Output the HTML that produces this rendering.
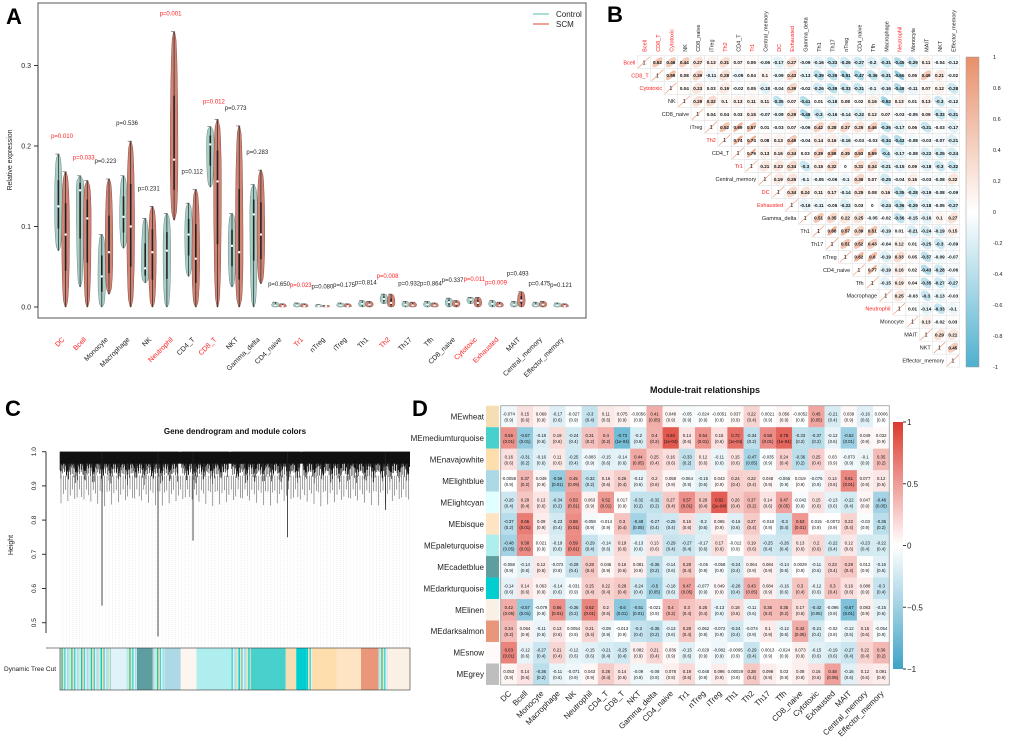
<!DOCTYPE html>
<html><head><meta charset="utf-8"><style>
html,body{margin:0;padding:0;background:#fff;}
svg{display:block;font-family:"Liberation Sans",Arial,sans-serif;}
</style></head><body>
<svg id="fig" width="1020" height="744" viewBox="0 0 1020 744" xmlns="http://www.w3.org/2000/svg">
<rect x="0" y="0" width="1020" height="744" fill="#fff"/>
<text x="6" y="24" font-size="22" font-weight="bold">A</text>
<text x="607" y="22" font-size="22" font-weight="bold">B</text>
<text x="5" y="416" font-size="22" font-weight="bold">C</text>
<text x="412" y="416" font-size="22" font-weight="bold">D</text>
<g id="pa"></g>
<g id="pb"></g>
<g id="pc"></g>
<g id="pd"></g>
</svg>
<script>
// ---------- Panel A data ----------
const catsA = ["DC","Bcell","Monocyte","Macrophage","NK","Neutrophil","CD4_T","CD8_T","NKT","Gamma_delta","CD4_naive","Tr1","nTreg","iTreg","Th1","Th2","Th17","Tfh","CD8_naive","Cytotoxic","Exhausted","MAIT","Central_memory","Effector_memory"];
const ctrlMin = [0.07,0.025,0,0.073,0.03,0,0.038,0.149,0.025,0,0,0,0,0,0,0.004,0,0,0,0.004,0,0,0,0];
const ctrlMax = [0.19,0.163,0.09,0.163,0.11,0.116,0.129,0.224,0.116,0.152,0.006,0.005,0.003,0.005,0.008,0.016,0.007,0.007,0.011,0.012,0.008,0.007,0.006,0.005];
const ctrlMed = [0.125,0.145,0.038,0.112,0.048,0.07,0.09,0.202,0.076,0.115,0.002,0.002,0.001,0.002,0.004,0.01,0.003,0.003,0.006,0.009,0.004,0.003,0.002,0.002];
const scmMin = [0,0,0.016,0,0,0.108,0,0,0,0.029,0,0,0,0,0,0,0,0,0,0,0,0,0,0];
const scmMax = [0.168,0.157,0.159,0.206,0.125,0.342,0.146,0.233,0.225,0.17,0.004,0.004,0.002,0.004,0.007,0.016,0.006,0.005,0.008,0.012,0.006,0.019,0.007,0.004];
const scmMed = [0.09,0.11,0.068,0.1,0.068,0.183,0.06,0.156,0.068,0.09,0.001,0.001,0.001,0.001,0.003,0.005,0.002,0.002,0.004,0.005,0.002,0.008,0.003,0.001];
const pvalsA = ["0.010","0.033","0.223","0.536","0.231","0.001","0.112","0.012","0.773","0.283","0.650","0.023","0.080","0.175","0.814","0.008","0.932","0.864","0.337","0.011","0.009","0.493","0.475","0.121"];
const yTicksA = [0.0,0.1,0.2,0.3];

// ---------- Panel B data ----------
const varsB = ["Bcell","CD8_T","Cytotoxic","NK","CD8_naive","iTreg","Th2","CD4_T","Tr1","Central_memory","DC","Exhausted","Gamma_delta","Th1","Th17","nTreg","CD4_naive","Tfh","Macrophage","Neutrophil","Monocyte","MAIT","NKT","Effector_memory"];
const redB = ["Bcell","CD8_T","Cytotoxic","Th2","Tr1","DC","Exhausted","Neutrophil"];
const corB = [
[0.52,0.46,0.44,0.27,0.13,0.31,0.07,0.06,-0.06,-0.17,0.27,-0.09,-0.16,-0.33,-0.26,-0.27,-0.2,-0.31,-0.45,-0.29,0.11,-0.04,-0.12],
[0.59,0.08,0.39,-0.11,0.28,-0.09,0.04,0.1,-0.09,0.43,-0.13,-0.39,-0.39,-0.51,-0.47,-0.36,-0.31,-0.65,0.05,0.49,0.21,-0.02],
[0.04,0.23,0.03,0.19,-0.02,0.05,-0.18,-0.04,0.39,-0.02,-0.26,-0.39,-0.33,-0.31,-0.1,-0.16,-0.48,-0.11,0.07,0.12,-0.28],
[0.29,0.32,0.1,0.13,0.11,0.11,-0.35,0.07,-0.41,0.01,-0.18,0.08,0.02,0.16,-0.53,0.13,0.01,0.13,-0.3,-0.12],
[0.04,0.04,0.03,0.15,-0.07,-0.09,0.29,-0.48,-0.3,-0.16,-0.14,-0.22,0.12,0.07,-0.03,-0.05,0.09,-0.33,-0.31],
[0.52,0.69,0.57,0.01,-0.03,0.07,-0.06,0.42,0.28,0.37,0.25,0.46,-0.36,-0.17,0.06,-0.31,-0.03,-0.17],
[0.74,0.74,0.08,0.13,0.49,-0.04,0.14,0.16,-0.16,-0.03,-0.03,-0.34,-0.43,-0.08,-0.03,-0.07,-0.21],
[0.79,0.13,0.16,0.34,0.03,0.39,0.58,0.35,0.53,0.59,-0.4,-0.17,-0.08,-0.22,-0.25,-0.24],
[0.21,0.23,0.34,-0.3,0.15,0.32,0,0.31,0.34,-0.21,-0.15,0.09,-0.18,-0.3,-0.32],
[0.19,0.25,-0.1,-0.05,-0.06,-0.1,0.36,0.07,-0.25,-0.04,0.16,-0.03,-0.08,0.22],
[0.34,0.24,0.11,0.17,-0.14,0.25,0.08,0.16,-0.35,-0.28,-0.19,-0.08,-0.09],
[-0.16,-0.11,-0.05,-0.22,0.03,0,-0.24,-0.36,-0.29,-0.18,-0.05,-0.27],
[0.51,0.35,0.22,0.25,-0.05,-0.02,-0.36,-0.15,-0.16,0.1,0.27],
[0.68,0.57,0.39,0.51,-0.19,0.01,-0.21,-0.24,-0.19,0.15],
[0.51,0.52,0.43,-0.04,0.12,0.01,-0.25,-0.3,-0.09],
[0.62,0.6,-0.19,0.33,0.05,-0.37,-0.09,-0.07],
[0.77,-0.19,0.16,0.02,-0.43,-0.28,-0.06],
[-0.15,0.19,0.04,-0.35,-0.27,-0.27],
[0.25,-0.03,-0.3,-0.13,-0.03],
[0.01,-0.14,-0.33,-0.1],
[0.13,-0.02,0.03],
[0.29,0.21],
[0.45],
[]];
const cbTicksB = [1,0.8,0.6,0.4,0.2,0,-0.2,-0.4,-0.6,-0.8,-1];

// ---------- Panel C data ----------
const treeSegStart = [0,0.145,0.19,0.22,0.265,0.30,0.345,0.39,0.49,0.545,0.645,0.675,0.705,0.72,0.79,0.86,0.91,0.935];
const treeSegColor = ["mix","#e0f3f8","mix","#5f9ea0","mix","#add8e6","#fdf6f0","#afeeee","mix","#48d1cc","#f5deb3","#00ced1","mix","#ffdead","#ffe4c4","#e9967a","mix","#faf0e6"];
const dropPos = [0.12,0.28,0.38,0.65,0.93];
const dropHeight = [0.55,0.46,0.74,0.75,0.83];
const yTicksC = [1.0,0.9,0.8,0.7,0.6,0.5];

// ---------- Panel D data ----------
const modules = ["MEwheat","MEmediumturquoise","MEnavajowhite","MElightblue","MElightcyan","MEbisque","MEpaleturquoise","MEcadetblue","MEdarkturquoise","MElinen","MEdarksalmon","MEsnow","MEgrey"];
const moduleColors = ["#f5deb3","#48d1cc","#ffdead","#add8e6","#e0ffff","#ffe4c4","#afeeee","#5f9ea0","#00ced1","#faf0e6","#e9967a","#fffafa","#bebebe"];
const traits = ["DC","Bcell","Monocyte","Macrophage","NK","Neutrophil","CD4_T","CD8_T","NKT","Gamma_delta","CD4_naive","Tr1","nTreg","iTreg","Th1","Th2","Th17","Tfh","CD8_naive","Cytotoxic","Exhausted","MAIT","Central_memory","Effector_memory"];
const corD = [
[-0.074,0.15,0.069,-0.17,-0.027,-0.3,0.11,0.075,-0.0056,0.41,0.048,-0.05,-0.024,-0.0051,0.037,0.22,0.0021,0.056,-0.0052,0.45,-0.21,0.039,-0.16,0.0006],
[0.56,-0.57,-0.18,0.19,-0.24,0.31,0.4,-0.73,-0.2,0.4,0.84,0.14,0.54,0.15,0.72,-0.34,0.58,0.78,-0.33,-0.37,-0.12,-0.52,0.049,0.032],
[0.16,-0.31,-0.16,0.11,-0.25,-0.083,-0.15,-0.14,0.44,0.25,0.16,-0.33,0.12,-0.11,0.15,-0.47,-0.035,0.24,-0.36,0.25,0.03,-0.073,-0.1,0.35],
[-0.0058,0.37,0.049,-0.56,0.45,-0.32,0.16,0.26,-0.12,0.2,0.058,-0.064,-0.15,0.043,0.24,0.22,0.048,-0.065,0.019,-0.075,0.14,0.61,0.077,0.12],
[-0.26,0.29,0.13,-0.34,0.53,0.063,0.52,0.017,-0.32,-0.32,0.27,0.57,0.29,0.82,0.26,0.37,0.14,0.47,-0.042,0.15,-0.13,-0.22,0.047,-0.48],
[-0.37,0.66,0.09,-0.23,0.58,-0.059,-0.014,0.3,-0.48,-0.27,-0.25,0.16,-0.2,0.065,-0.16,0.27,-0.018,-0.3,0.53,0.015,-0.0072,0.22,-0.03,-0.36],
[-0.48,0.58,0.021,-0.19,0.59,-0.29,-0.14,0.19,-0.13,0.13,-0.29,-0.27,-0.17,0.17,-0.012,0.19,-0.25,-0.26,0.13,0.2,-0.22,0.12,-0.23,-0.22],
[-0.058,-0.14,0.12,-0.072,-0.29,0.28,0.045,0.16,0.081,-0.36,-0.14,0.28,-0.05,-0.058,-0.24,0.064,0.084,-0.14,0.0029,-0.11,0.23,0.29,0.012,-0.16],
[-0.14,0.14,0.063,-0.14,-0.031,0.25,0.22,0.28,-0.24,-0.5,-0.18,0.47,-0.077,0.049,-0.28,0.43,0.084,-0.16,0.3,-0.12,0.3,0.16,0.088,-0.3],
[0.42,-0.57,-0.079,0.56,-0.36,0.62,0.2,-0.6,-0.51,-0.021,0.4,0.3,0.25,-0.13,0.18,-0.11,0.35,0.35,0.17,-0.42,-0.096,-0.67,0.083,-0.15],
[0.34,0.064,-0.11,0.13,0.0054,0.21,-0.09,-0.013,-0.3,-0.35,-0.13,0.28,-0.062,-0.072,-0.24,-0.074,0.1,-0.12,0.42,-0.21,-0.02,-0.12,0.15,-0.054],
[0.63,-0.12,-0.27,0.21,-0.12,-0.15,-0.21,-0.25,0.082,0.21,0.036,-0.15,-0.029,-0.082,-0.0095,-0.29,0.0013,-0.024,0.073,-0.15,-0.19,-0.27,0.22,0.36],
[0.053,0.14,-0.36,-0.11,-0.071,0.043,0.26,0.14,-0.09,-0.08,0.078,0.19,-0.048,0.096,0.00029,0.28,0.098,0.03,0.08,0.16,0.48,-0.16,0.12,0.091]];
const cbTicksD = [1,0.5,0,-0.5,-1];

// ---------- helpers ----------
const NS = "http://www.w3.org/2000/svg";
function mk(tag, parent, attrs){ const e=document.createElementNS(NS,tag); for(const k in attrs) e.setAttribute(k,attrs[k]); parent.appendChild(e); return e; }
function hex(c){return [parseInt(c.slice(1,3),16),parseInt(c.slice(3,5),16),parseInt(c.slice(5,7),16)];}
function mix(a,b,t){const A=hex(a),B=hex(b);return "rgb("+A.map((v,i)=>Math.round(v+(B[i]-v)*t)).join(",")+")";}
function colB(r){return r>=0?mix("#ffffff","#e8906a",Math.min(1,r)):mix("#ffffff","#4fb0cf",Math.min(1,-r));}
function colD(r){return r>=0?mix("#ffffff","#dd3a2e",Math.min(1,r)):mix("#ffffff","#3fa3c6",Math.min(1,-r));}

// ---------- Panel A ----------
(function(){
const g=document.getElementById("pa");
const yA=v=>307-v*805;
const xA=i=>62+i*21.7;
const box=mk("rect",g,{x:38,y:3,width:548,height:315,fill:"none",stroke:"#555","stroke-width":1});


mk("line",g,{x1:38,y1:yA(0),x2:38,y2:yA(0.3),stroke:"#333"});
yTicksA.forEach(t=>{
  mk("line",g,{x1:34,y1:yA(t),x2:38,y2:yA(t),stroke:"#333"});
  const tl=mk("text",g,{x:31,y:yA(t)+2.5,"font-size":7,"text-anchor":"end",fill:"#222"});
  tl.textContent=t.toFixed(1);
  
  
});
const yt=mk("text",g,{x:12,y:160,"font-size":7,"text-anchor":"middle",transform:"rotate(-90 12 160)",fill:"#222"});
yt.textContent="Relative expression";


function violin(cx,mn,mx,md,fill,stroke,name){
  const W=3.3, n=24; let left=[],right=[];
  for(let k=0;k<=n;k++){
    const v=mn+(mx-mn)*k/n;
    const span=v<md?(md-mn||1e-6):(mx-md||1e-6);
    let t=Math.abs(v-md)/span; let w=W*Math.pow(Math.max(0,1-t*t),0.4)+0.5;
    left.push([cx-w,yA(v)]); right.push([cx+w,yA(v)]);
  }
  const pts=left.concat(right.reverse()).map(p=>p[0].toFixed(1)+","+p[1].toFixed(1)).join(" ");
  const p=mk("polygon",g,{points:pts,fill:fill,stroke:stroke,"stroke-width":0.5});
  
  
  mk("line",g,{x1:cx,y1:yA(mn),x2:cx,y2:yA(mx),stroke:"#222","stroke-width":0.7});
  mk("line",g,{x1:cx,y1:yA((mn+md)/2),x2:cx,y2:yA((md+mx)/2),stroke:"#222","stroke-width":1.6});
  mk("line",g,{x1:cx-3,y1:yA(mx),x2:cx+1,y2:yA(mx),stroke:"#555","stroke-width":0.6});
  mk("circle",g,{cx:cx,cy:yA(md),r:1.2,fill:"#fff"});
}
catsA.forEach((c,i)=>{
  violin(xA(i)-3.6,ctrlMin[i],ctrlMax[i],ctrlMed[i],"#a9cdc7","#6a8a86","violin-control-"+c.toLowerCase());
  violin(xA(i)+3.6,scmMin[i],scmMax[i],scmMed[i],"#d08476","#8a4a40","violin-scm-"+c.toLowerCase());
  const sig=parseFloat(pvalsA[i])<0.05;
  const top=Math.max(ctrlMax[i],scmMax[i]);
  const pl=mk("text",g,{x:xA(i),y:yA(top+0.02),"font-size":6,"text-anchor":"middle",fill:sig?"#ff2020":"#222"});
  pl.textContent="p="+pvalsA[i];
  
  
  const lx=xA(i)+3, ly=340;
  const xl=mk("text",g,{x:lx,y:ly,"font-size":7,"text-anchor":"end",transform:`rotate(-45 ${lx} ${ly})`,fill:redB.includes(c)?"#ff2020":"#222"});
  xl.textContent=c;
  
  
});
const lg=mk("g",g,{});


mk("line",lg,{x1:533,y1:14,x2:549,y2:14,stroke:"#8fd3c8","stroke-width":1.5});
mk("line",lg,{x1:533,y1:24,x2:549,y2:24,stroke:"#e8837a","stroke-width":1.5});
const l1=mk("text",lg,{x:556,y:17,"font-size":8,fill:"#222"}); l1.textContent="Control";


const l2=mk("text",lg,{x:556,y:27,"font-size":8,fill:"#222"}); l2.textContent="SCM";


})();

// ---------- Panel B ----------
(function(){
const g=document.getElementById("pb");
const cw=13.43, ch=12.97, x0=637.3, y0=55.8;
const xB=j=>x0+j*cw, yB=i=>y0+i*ch;
varsB.forEach((v,i)=>{
  const red=redB.includes(v);
  const cx=xB(i)+cw/2+2.5, cy=yB(0)-4;
  const cl=mk("text",g,{x:cx,y:cy,"font-size":5.5,transform:`rotate(-90 ${cx} ${cy})`,fill:red?"#ff2020":"#222"});
  cl.textContent=v;
  
  
  const rl=mk("text",g,{x:xB(i)-2,y:yB(i)+ch/2+2,"font-size":5.5,"text-anchor":"end",fill:red?"#ff2020":"#222"});
  rl.textContent=v;
  
  
  mk("rect",g,{x:xB(i),y:yB(i),width:cw,height:ch,fill:"#fff",stroke:"#ddd","stroke-width":0.5});
  mk("line",g,{x1:xB(i)+1,y1:yB(i)+ch-1,x2:xB(i)+cw-1,y2:yB(i)+1,stroke:"#e8906a","stroke-width":0.6});
  const d=mk("text",g,{x:xB(i)+cw/2,y:yB(i)+ch/2+2,"font-size":5.5,"text-anchor":"middle",fill:"#000"}); d.textContent="1";
  corB[i].forEach((r,k)=>{
    const j=i+1+k, x=xB(j), y=yB(i);
    const cell=mk("rect",g,{x:x,y:y,width:cw,height:ch,fill:"#fff",stroke:"#ddd","stroke-width":0.5});
    
    
    const a=Math.abs(r);
    mk("ellipse",g,{cx:x+cw/2,cy:y+ch/2,rx:cw/2*0.95,ry:Math.max(0.8,ch/2*(1-a)*0.95),fill:colB(r),transform:`rotate(${r>=0?-45:45} ${x+cw/2} ${y+ch/2})`});
    const t=mk("text",g,{x:x+cw/2,y:y+ch/2+1.8,"font-size":4.6,"text-anchor":"middle","font-weight":"bold",fill:"#111"});
    t.textContent=String(r);
  });
});
const grad=mk("linearGradient",mk("defs",g,{}),{id:"gb",x1:0,y1:0,x2:0,y2:1});
[[0,"#e8906a"],[0.5,"#ffffff"],[1,"#4fb0cf"]].forEach(s=>mk("stop",grad,{offset:s[0],"stop-color":s[1]}));
const cb=mk("rect",g,{x:966,y:57,width:13,height:310,fill:"url(#gb)",stroke:"#999","stroke-width":0.5});


cbTicksB.forEach(t=>{
  const y=57+(1-t)/2*310;
  const tl=mk("text",g,{x:993,y:y+2,"font-size":5.5,fill:"#222"}); tl.textContent=String(t);
  
  
});
})();

// ---------- Panel C ----------
(function(){
const g=document.getElementById("pc");
const yC=h=>451.7+(1-h)*342;
const xL=60, xR=410;
const ti=mk("text",g,{x:235,y:434,"font-size":8,"font-weight":"bold","text-anchor":"middle",fill:"#111"});
ti.textContent="Gene dendrogram and module colors";


mk("line",g,{x1:46,y1:yC(1.0),x2:46,y2:yC(0.47),stroke:"#333"});
yTicksC.forEach(t=>{
  mk("line",g,{x1:42,y1:yC(t),x2:46,y2:yC(t),stroke:"#333"});
  const tl=mk("text",g,{x:36,y:yC(t),"font-size":6.5,"text-anchor":"middle",transform:`rotate(-90 36 ${yC(t)})`,fill:"#222"});
  tl.textContent=t.toFixed(1);
  
  
});
const ht=mk("text",g,{x:13,y:545,"font-size":7,"text-anchor":"middle",transform:"rotate(-90 13 545)",fill:"#222"});
ht.textContent="Height";


for(let x=xL+3;x<xR;x+=3.3){ mk("line",g,{x1:x,y1:yC(0.9),x2:x,y2:647,stroke:"#d8d8d8","stroke-width":0.4,"stroke-dasharray":"1,1"}); }
const dg=mk("g",g,{});


mk("rect",dg,{x:xL,y:yC(1),width:xR-xL,height:yC(0.965)-yC(1),fill:"#111"});
for(let x=xL;x<=xR;x+=0.45){
  const f=(x-xL)/(xR-xL);
  const gapped=[0.342,0.485,0.69].some(c=>Math.abs(f-c)<0.004);
  if(gapped) continue;
  const h=0.90+0.04*Math.abs(Math.sin(x*1.7))+0.03*Math.abs(Math.sin(x*0.37));
  mk("line",dg,{x1:x,y1:yC(1),x2:x,y2:yC(h),stroke:"#111","stroke-width":0.6});
}
for(let x=xL+1;x<=xR;x+=2.3){
  const h=0.84+0.05*Math.abs(Math.sin(x*0.93));
  mk("line",dg,{x1:x,y1:yC(0.93),x2:x,y2:yC(h),stroke:"#444","stroke-width":0.5});
}
dropPos.forEach((f,i)=>{
  const x=xL+f*(xR-xL);
  const d=mk("line",dg,{x1:x,y1:yC(1),x2:x,y2:yC(dropHeight[i]),stroke:"#222","stroke-width":0.8});
  
  
});
const bar=mk("g",g,{});


const stripes=["#f5deb3","#48d1cc","#afeeee","#ffdead","#add8e6","#00ced1","#e0f3f8"];
treeSegStart.forEach((s,i)=>{
  const e=i+1<treeSegStart.length?treeSegStart[i+1]:1;
  const x1=xL+s*(xR-xL), x2=xL+e*(xR-xL);
  if(treeSegColor[i]==="mix"){
    let k=0; for(let x=x1;x<x2;x+=1.4){ mk("rect",bar,{x:x,y:648,width:1.5,height:42,fill:stripes[(k*5+i)%stripes.length]}); k++; }
  } else mk("rect",bar,{x:x1,y:648,width:x2-x1,height:42,fill:treeSegColor[i]});
});
mk("rect",bar,{x:xL,y:648,width:xR-xL,height:42,fill:"none",stroke:"#333","stroke-width":0.6});
mk("line",g,{x1:46,y1:648,x2:xL,y2:648,stroke:"#333","stroke-width":0.6});
const dl=mk("text",g,{x:4,y:671,"font-size":6.5,fill:"#222"}); dl.textContent="Dynamic Tree Cut";


})();

// ---------- Panel D ----------
(function(){
const g=document.getElementById("pd");
const x0=500.7, y0=405.7, cw=16.19, ch=21.48;
const xD=j=>x0+j*cw, yD=i=>y0+i*ch;
const ti=mk("text",g,{x:705,y:393,"font-size":9,"font-weight":"bold","text-anchor":"middle",fill:"#111"});
ti.textContent="Module-trait relationships";


function pTxt(a){return a>0.7?"(1e-04)":a>0.5?"(0.01)":a>0.4?"(0.05)":a>0.3?"(0.2)":a>0.2?"(0.4)":a>0.1?"(0.6)":"(0.9)";}
modules.forEach((m,i)=>{
  const lab=mk("text",g,{x:484,y:yD(i)+ch/2+3,"font-size":8,"text-anchor":"end",fill:"#222"});
  lab.textContent=m;
  
  
  const sw=mk("rect",g,{x:486,y:yD(i),width:13,height:ch,fill:moduleColors[i]});
  
  
  corD[i].forEach((r,j)=>{
    const c=mk("rect",g,{x:xD(j),y:yD(i),width:cw+0.2,height:ch+0.2,fill:colD(r)});
    
    
    const t1=mk("text",g,{x:xD(j)+cw/2,y:yD(i)+ch/2-1,"font-size":4.3,"text-anchor":"middle",fill:"#111"});
    t1.textContent=String(r);
    const t2=mk("text",g,{x:xD(j)+cw/2,y:yD(i)+ch/2+5,"font-size":4.3,"text-anchor":"middle",fill:"#111"});
    t2.textContent=pTxt(Math.abs(r));
  });
});
mk("rect",g,{x:x0,y:y0,width:cw*24,height:ch*13,fill:"none",stroke:"#999","stroke-width":0.8});
traits.forEach((t,j)=>{
  const lx=xD(j)+cw/2+3, ly=694;
  const tl=mk("text",g,{x:lx,y:ly,"font-size":8,"text-anchor":"end",transform:`rotate(-45 ${lx} ${ly})`,fill:"#222"});
  tl.textContent=t;
  
  
});
const grad=mk("linearGradient",mk("defs",g,{}),{id:"gd",x1:0,y1:0,x2:0,y2:1});
[[0,"#dd3a2e"],[0.5,"#ffffff"],[1,"#3fa3c6"]].forEach(s=>mk("stop",grad,{offset:s[0],"stop-color":s[1]}));
const cb=mk("rect",g,{x:893,y:422,width:10,height:247,fill:"url(#gd)"});


cbTicksD.forEach(t=>{
  const y=422+(1-t)/2*247;
  mk("line",g,{x1:903,y1:y,x2:906,y2:y,stroke:"#333"});
  const tl=mk("text",g,{x:907,y:y+3,"font-size":8,fill:"#222"}); tl.textContent=String(t).replace("-","−");
  
  
});
})();
</script>
</body></html>
